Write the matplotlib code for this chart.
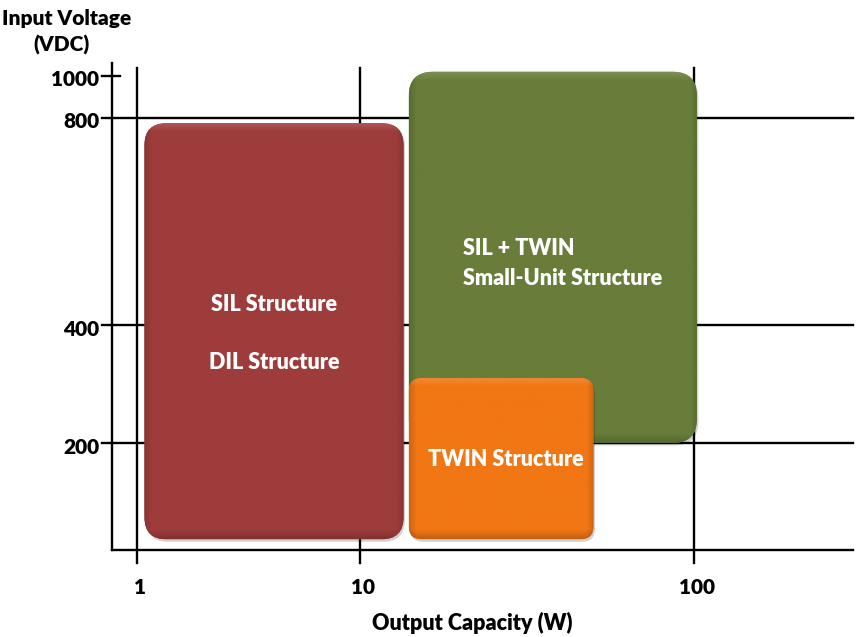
import numpy as np
import matplotlib
matplotlib.use("Agg")
import matplotlib.pyplot as plt
from matplotlib.patches import FancyBboxPatch
from matplotlib.transforms import IdentityTransform
from matplotlib.colors import to_rgb

plt.rcParams["font.family"] = ["Lato", "DejaVu Sans"]
plt.rcParams["font.weight"] = "heavy"

# axis ticks
x_ticks = [1, 10, 100]
x_tick_labels = ["1", "10", "100"]
y_ticks = [200, 400, 800, 1000]
y_tick_labels = ["200", "400", "800", "1000"]

# converter families: output power range (W) and input voltage range (VDC)
families = ["SIL / DIL", "SIL + TWIN small-unit", "TWIN"]
power_lo = [1.08, 14.0, 14.0]
power_hi = [13.5, 102.0, 50.0]
volt_lo = [110, 200, 110]
volt_hi = [790, 1020, 310]
box_colors = ["#9e3c3b", "#687d39", "#f17614"]
box_radius = [22, 24, 13]

# the schematic axes are hand-spaced, so both scales are piecewise
# linear between the decade / voltage marks (positions in pixels)
X_LOG = [-1.0, 0.0, 1.0, 2.0, 3.0]
X_POS = [-86.0, 137.0, 360.0, 694.0, 1028.0]
Y_VAL = [0.0, 100.0, 200.0, 400.0, 800.0, 1000.0, 1600.0]
Y_POS = [-20.0, 87.0, 194.0, 312.0, 519.0, 561.0, 687.0]


def x_fwd(x):
    return np.interp(np.log10(np.maximum(x, 1e-9)), X_LOG, X_POS)


def x_inv(p):
    return 10 ** np.interp(p, X_POS, X_LOG)


def y_fwd(v):
    return np.interp(v, Y_VAL, Y_POS)


def y_inv(p):
    return np.interp(p, Y_POS, Y_VAL)


W, H = 857, 637
fig = plt.figure(figsize=(W / 100, H / 100), dpi=100)
ax = fig.add_axes([0, 0, 1, 1])
ax.set_xscale("function", functions=(x_fwd, x_inv))
ax.set_yscale("function", functions=(y_fwd, y_inv))
ax.set_xlim(x_inv(0), x_inv(W))
ax.set_ylim(y_inv(0), y_inv(H))
ax.axis("off")

lw = 1.7
x_axis = 0.77     # where the voltage axis sits
x_start = 0.70    # left end of the horizontal rules
x_end = 300.0
v_floor = 100     # power axis
v_below = 88      # tick overhang under the power axis
v_top = 1062

# axes and grid
ax.plot([x_axis, x_axis], [v_floor, v_top], color="black", lw=lw, zorder=1)
ax.plot([x_axis, x_end], [v_floor, v_floor], color="black", lw=lw, zorder=1)
for xv in x_ticks:
    ax.plot([xv, xv], [v_below, 1040], color="black", lw=lw, zorder=1)
for yv in y_ticks:
    right = 0.84 if yv == 1000 else x_end
    ax.plot([x_start, right], [yv, yv], color="black", lw=lw, zorder=1)

# tick labels
for xv, lab in zip(x_ticks, x_tick_labels):
    ax.annotate(lab, (xv, v_floor), xytext=(3, -37), textcoords="offset pixels",
                ha="center", va="center", fontsize=15)
for yv, lab in zip(y_ticks, y_tick_labels):
    ax.annotate(lab, (x_start, yv), xytext=(-3, -4), textcoords="offset pixels",
                ha="right", va="center", fontsize=15)

ax.text(67, H - 18, "Input Voltage", transform=IdentityTransform(),
        ha="center", va="center", fontsize=15)
ax.text(62, H - 45, "(VDC)", transform=IdentityTransform(),
        ha="center", va="center", fontsize=15)
ax.text(472, H - 623, "Output Capacity (W)", transform=IdentityTransform(),
        ha="center", va="center", fontsize=15.5)


def shade(color, nx, ny):
    """Bevel-like shading: darker rims, a light band along the top."""
    base = np.array(to_rgb(color))
    yy, xx = np.mgrid[0:ny, 0:nx]
    edge_x = np.minimum(xx, nx - 1 - xx)
    dark_side = np.clip(1 - edge_x / 7.0, 0, 1) * 0.14
    dark_bot = np.clip(1 - yy / 9.0, 0, 1) * 0.18
    light_top = np.clip(1 - (ny - 1 - yy) / 9.0, 0, 1) * 0.15
    f = 1 - dark_side - dark_bot
    img = base[None, None, :] * f[..., None]
    img = img + (1 - img) * light_top[..., None]
    return np.clip(img, 0, 1)


boxes = []
for i in range(len(families)):
    (x0, y0), (x1, y1) = ax.transData.transform(
        [(power_lo[i], volt_lo[i]), (power_hi[i], volt_hi[i])])
    r = box_radius[i]
    z = 3 + i
    shadow = FancyBboxPatch((x0 + 1.5, y0 - 2.5), x1 - x0, y1 - y0,
                            boxstyle=f"round,pad=0,rounding_size={r}",
                            transform=IdentityTransform(), facecolor="#000000",
                            alpha=0.18, edgecolor="none", zorder=z)
    ax.add_patch(shadow)
    patch = FancyBboxPatch((x0, y0), x1 - x0, y1 - y0,
                           boxstyle=f"round,pad=0,rounding_size={r}",
                           transform=IdentityTransform(), facecolor=box_colors[i],
                           edgecolor="none", zorder=z)
    ax.add_patch(patch)
    nx, ny = int(x1 - x0), int(y1 - y0)
    im = ax.imshow(shade(box_colors[i], nx, ny), origin="lower",
                   extent=(x0, x1, y0, y1), transform=IdentityTransform(),
                   interpolation="bilinear", zorder=z, aspect="auto")
    im.set_clip_path(patch)
    boxes.append((x0, y0, x1, y1))

# labels inside the boxes
txt = dict(transform=IdentityTransform(), va="center", fontsize=15.5,
           color="white", zorder=10)
rx0, ry0, rx1, ry1 = boxes[0]
rcx, rcy = (rx0 + rx1) / 2, (ry0 + ry1) / 2
ax.text(rcx, rcy + 27, "SIL Structure", ha="center", **txt)
ax.text(rcx, rcy - 31, "DIL Structure", ha="center", **txt)

gx0, gy0, gx1, gy1 = boxes[1]
gcy = (gy0 + gy1) / 2
ax.text(gx0 + 54, gcy + 9, "SIL + TWIN", ha="left", **txt)
ax.text(gx0 + 54, gcy - 21, "Small-Unit Structure", ha="left", **txt)

ox0, oy0, ox1, oy1 = boxes[2]
ax.text((ox0 + ox1) / 2 + 5, (oy0 + oy1) / 2 - 1, "TWIN Structure",
        ha="center", **txt)

fig.savefig("out.png", dpi=100)
